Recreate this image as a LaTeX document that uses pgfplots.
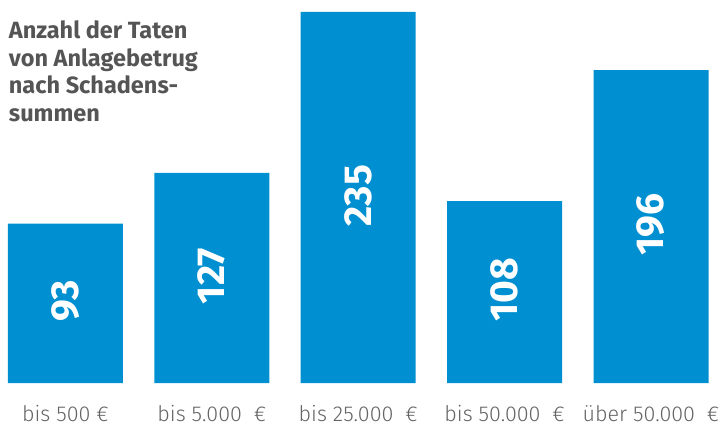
\documentclass[border=0pt]{standalone}
\usepackage{pgfplots}
\pgfplotsset{compat=1.18}
\usepackage{fontspec}
\setmainfont{Fira Sans}
\newfontfamily\lightfont{Fira Sans Light}
\definecolor{barblue}{RGB}{0,143,208}
\definecolor{titlegray}{RGB}{85,85,85}
\definecolor{labelgray}{RGB}{100,100,100}
\begin{document}
\begin{tikzpicture}
\path[use as bounding box] (0pt,-43pt) rectangle (728pt,383pt);
\begin{axis}[
  at={(0pt,0pt)}, anchor=south west,
  scale only axis, width=728pt, height=371pt,
  xmin=-0.447, xmax=4.526, ymin=-14, ymax=235,
  y coord trafo/.code={\pgfmathparse{#1+14}},
  y coord inv trafo/.code={\pgfmathparse{#1-14}},
  ybar, bar width=115pt, bar shift=0pt,
  xtick={0,1,2,3,4},
  xticklabels={bis 500 €, bis 5.000\ \ €, bis 25.000\ \ €, bis 50.000\ \ €, über 50.000\ \ €},
  hide y axis,
  axis x line*=bottom,
  x axis line style={draw=none},
  major tick length=0pt,
  xticklabel style={font=\lightfont\fontsize{21.5}{21.5}\selectfont, text=labelgray, anchor=base, yshift=-38pt},
  point meta=explicit symbolic,
  nodes near coords,
  visualization depends on={y \as \rawy},
  every node near coord/.append style={font=\bfseries\fontsize{39}{39}\selectfont, text=white, rotate=90, anchor=center, xshift={-0.5*\rawy*1.49pt+2pt}},
  clip=false,
]
\addplot[fill=barblue, draw=none] coordinates {(0,93) [93] (1,127) [127] (2,235) [235] (3,108) [108] (4,196) [196]};
\node[anchor=north west, align=left, font=\bfseries\fontsize{23.5}{27.5}\selectfont, text=titlegray, inner sep=0pt] at (rel axis cs:0.012,0.977) {Anzahl der Taten\\von Anlagebetrug\\nach Schadens-\\summen};
\end{axis}
\end{tikzpicture}
\end{document}
